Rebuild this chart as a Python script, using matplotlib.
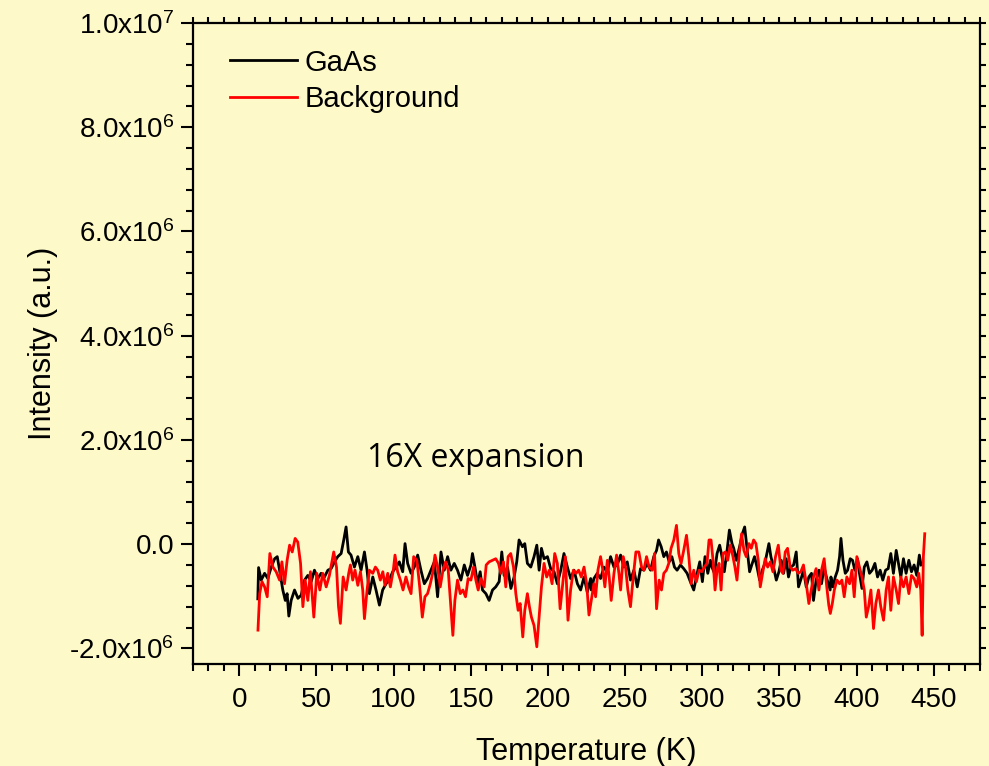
import matplotlib
matplotlib.use("Agg")
import matplotlib.pyplot as plt
from matplotlib.ticker import MultipleLocator, FuncFormatter

plt.rcParams['font.family'] = ['Liberation Sans', 'DejaVu Sans']
plt.rcParams['mathtext.default'] = 'regular'
plt.rcParams['axes.unicode_minus'] = False

# GaAs signal (intensity in units of 1e6 a.u.)
gaas_temp = [12.0, 12.5, 14.2, 16.4, 18.5, 20.7, 22.9, 24.6, 26.1, 28.2, 29.8, 31.0, 32.1, 33.6, 35.8,
             38.0, 40.1, 42.3, 44.4, 46.6, 48.7, 50.9, 53.0, 55.2, 57.4, 59.5, 61.7, 63.8, 66.0, 67.7,
             69.2, 70.7, 72.4, 74.6, 76.8, 78.9, 81.1, 82.8, 84.3, 86.5, 88.6, 90.8, 92.9, 95.1, 97.2,
             99.4, 101.6, 103.7, 105.9, 107.4, 109.1, 111.3, 113.4, 115.6, 117.7, 119.9, 122.0, 124.2,
             126.4, 128.5, 130.7, 132.8, 135.0, 137.1, 139.3, 141.4, 143.6, 145.8, 147.9, 150.1, 151.1,
             152.7, 154.4, 156.1, 157.6, 159.8, 161.9, 164.1, 166.2, 168.4, 170.1, 171.6, 173.8, 176.0,
             178.1, 179.8, 181.3, 183.5, 185.0, 186.7, 188.9, 191.0, 192.8, 194.3, 195.8, 197.5, 199.7,
             201.8, 204.0, 206.1, 208.3, 210.4, 212.6, 214.7, 216.9, 219.1, 221.2, 223.4, 225.5, 227.7,
             228.1, 229.8, 232.0, 234.1, 236.3, 238.5, 240.6, 242.8, 244.9, 247.1, 249.2, 251.4, 253.5,
             255.7, 257.9, 260.0, 262.2, 264.3, 266.5, 268.6, 270.4, 271.7, 273.4, 275.1, 276.8, 278.6,
             280.3, 282.0, 283.7, 285.9, 288.0, 290.2, 292.3, 294.5, 296.7, 298.4, 300.1, 301.8, 303.6,
             305.3, 306.3, 307.9, 309.6, 311.3, 312.8, 314.3, 316.1, 317.6, 319.3, 320.4, 322.1, 324.2,
             326.0, 327.5, 329.0, 330.7, 332.4, 333.9, 335.5, 337.2, 338.9, 340.6, 341.9, 343.2, 344.5,
             346.2, 348.0, 349.7, 351.2, 352.7, 354.4, 355.9, 357.4, 359.2, 360.9, 362.4, 364.1, 365.6,
             367.4, 369.1, 370.8, 372.1, 373.8, 375.6, 377.3, 379.0, 380.7, 382.9, 383.4, 384.7, 386.2,
             387.7, 389.0, 389.9, 391.2, 392.7, 394.2, 395.9, 397.4, 398.9, 400.6, 401.9, 403.5, 405.0,
             406.7, 408.4, 410.1, 411.9, 413.6, 415.3, 417.0, 418.8, 420.5, 422.2, 423.9, 425.7, 427.2,
             428.7, 430.4, 432.1, 433.9, 435.6, 437.3, 439.0, 440.7, 441.8]
gaas_int = [-1.05, -0.45, -0.69, -0.56, -0.66, -0.44, -0.28, -0.24, -0.50, -0.88, -1.08, -0.95, -1.38, -1.08, -0.88,
            -1.04, -0.98, -0.69, -0.60, -0.72, -0.50, -0.66, -0.56, -0.63, -0.50, -0.47, -0.34, -0.24, -0.18, 0.08,
            0.33, -0.15, -0.21, -0.44, -0.24, -0.50, -0.15, -0.50, -0.95, -0.63, -0.88, -1.17, -0.88, -0.76, -0.69,
            -0.53, -0.44, -0.34, -0.53, 0.01, -0.37, -0.56, -0.44, -0.21, -0.50, -0.76, -0.66, -0.50,
            -0.34, -1.01, -0.15, -0.50, -0.24, -0.50, -0.37, -0.50, -0.69, -0.40, -0.60, -0.40, -0.18,
            -0.44, -0.76, -0.53, -0.88, -0.95, -1.08, -0.88, -0.82, -0.72, -0.15, -0.60, -0.44, -0.85,
            -0.63, -0.34, 0.08, -0.05, 0.01, -0.37, -0.44, -0.24, -0.02, -0.50, -0.08, -0.28, -0.24,
            -0.47, -0.53, -0.76, -0.50, -0.18, -0.44, -0.66, -0.50, -0.76, -0.88, -0.63, -0.92, -0.66,
            -0.88, -0.66, -0.56, -0.66, -0.44, -0.53, -0.24, -0.44, -0.40, -0.21, -0.44, -0.34, -0.69,
            -0.50, -0.82, -0.47, -0.50, -0.37, -0.50, -0.24, -0.12, 0.08, -0.05, -0.24, -0.15, -0.34,
            -0.24, -0.44, -0.50, -0.40, -0.47, -0.56, -0.72, -0.88, -0.56, -0.34, -0.72, -0.24, -0.56,
            -0.31, -0.44, -0.56, -0.18, -0.02, -0.24, -0.53, -0.12, 0.27, 0.01, -0.08, -0.31, -0.05,
            0.20, 0.33, -0.08, -0.53, -0.37, -0.24, -0.44, -0.69, -0.50, -0.37, -0.18, 0.01, -0.24,
            -0.44, -0.69, -0.53, -0.31, -0.56, -0.28, -0.63, -0.44, -0.40, -0.15, -0.82, -0.66, -0.50,
            -0.82, -0.63, -0.56, -1.08, -0.69, -0.50, -0.76, -0.44, -0.66, -0.88, -0.63, -0.82, -0.63,
            -0.50, -0.24, 0.11, -0.31, -0.56, -0.50, -0.28, -0.31, -0.50, -0.28, -0.56, -0.85, -0.44,
            -0.34, -0.56, -0.50, -0.37, -0.63, -0.50, -0.69, -0.50, -0.47, -0.18, -0.56, -0.12, -0.37,
            -0.63, -0.28, -0.56, -0.31, -0.53, -0.40, -0.60, -0.21, -0.40]

# Background signal (intensity in units of 1e6 a.u.)
bg_temp = [12.1, 13.2, 14.7, 16.4, 18.1, 19.8, 21.8, 23.9, 26.1, 27.6, 29.3, 31.0, 32.6, 34.3, 36.2,
           37.9, 39.7, 41.2, 42.7, 44.4, 46.1, 48.3, 50.2, 52.2, 54.1, 56.3, 58.4, 61.2, 63.0, 64.3,
           65.5, 67.3, 69.2, 70.9, 72.0, 73.5, 75.0, 76.8, 78.5, 80.0, 81.1, 82.8, 84.3, 86.5, 88.2,
           89.7, 91.4, 93.0, 94.4, 96.2, 97.9, 99.8, 100.9, 102.6, 104.4, 106.1, 108.0, 109.7, 111.3,
           113.0, 115.1, 116.9, 118.6, 120.3, 122.0, 123.8, 125.3, 126.8, 128.5, 130.2, 132.0, 133.7,
           135.4, 137.1, 138.4, 139.7, 141.4, 143.2, 144.9, 146.6, 148.3, 150.1, 151.8, 153.3, 154.8,
           156.5, 158.7, 160.0, 161.9, 164.1, 166.2, 168.0, 169.5, 171.2, 172.7, 174.2, 175.9, 177.7,
           179.2, 180.7, 182.0, 183.7, 185.0, 186.7, 188.0, 189.3, 191.0, 192.8, 194.3, 195.8, 197.5,
           199.2, 200.9, 202.7, 204.4, 206.1, 207.9, 209.6, 211.3, 213.0, 214.7, 216.5, 218.2, 219.9,
           221.6, 223.4, 225.1, 226.6, 228.1, 229.8, 230.9, 232.4, 234.1, 235.6, 236.9, 238.5, 239.7,
           241.0, 242.8, 244.5, 246.0, 247.1, 248.8, 250.3, 251.8, 253.5, 255.3, 257.0, 258.9, 260.7,
           262.2, 263.9, 265.6, 267.6, 269.1, 270.4, 272.1, 273.6, 275.1, 276.8, 278.3, 279.8, 281.6,
           283.3, 284.8, 286.3, 288.0, 289.8, 291.3, 292.8, 294.5, 296.2, 298.0, 299.7, 301.4, 303.1,
           304.4, 305.7, 307.0, 308.3, 309.6, 310.9, 312.2, 313.5, 315.0, 316.5, 318.2, 319.7, 321.2,
           322.5, 324.0, 325.5, 327.0, 328.5, 330.3, 331.8, 333.3, 334.8, 336.3, 337.6, 339.1, 340.8,
           342.4, 344.1, 345.8, 347.5, 349.3, 351.0, 352.3, 353.8, 355.3, 357.0, 358.7, 360.5, 362.2,
           363.9, 365.6, 367.4, 369.1, 370.6, 372.1, 373.8, 375.6, 377.3, 379.0, 380.7, 382.0, 383.0,
           384.3, 385.6, 387.3, 389.0, 390.5, 392.0, 393.7, 395.5, 397.0, 398.5, 400.2, 401.9, 403.5,
           405.0, 406.3, 407.8, 409.3, 411.0, 412.5, 414.2, 415.7, 417.5, 419.2, 420.7, 422.2, 423.9,
           425.7, 427.2, 428.7, 430.4, 432.1, 433.9, 435.6, 437.3, 439.0, 440.3, 441.6, 442.5, 443.3,
           444.2]
bg_int = [-1.65, -0.95, -0.72, -0.82, -1.01, -0.18, -0.44, -0.53, -0.69, -0.34, -0.76, -0.31, -0.02, -0.15, 0.11,
          0.04, -0.37, -1.20, -0.69, -1.08, -0.53, -1.40, -0.56, -0.88, -0.56, -0.82, -0.60, -0.15, -0.44, -1.20,
          -1.52, -0.63, -0.88, -0.56, -0.40, -0.69, -0.50, -0.79, -0.53, -0.88, -1.43, -0.88, -0.50, -0.56, -0.44,
          -0.50, -0.69, -0.53, -0.79, -0.56, -0.82, -0.50, -0.21, -0.53, -0.69, -0.88, -0.63, -0.82, -0.95,
          -0.24, -0.31, -0.82, -1.40, -1.01, -0.95, -0.76, -0.56, -0.21, -0.44, -0.82, -0.50, -0.34,
          -0.50, -1.20, -1.75, -1.08, -0.69, -0.95, -0.88, -1.01, -0.66, -0.69, -0.44, -0.69, -0.88,
          -0.66, -0.82, -0.40, -0.34, -0.31, -0.28, -0.37, -0.56, -0.34, -0.82, -0.24, -0.18, -0.44,
          -0.95, -1.27, -1.14, -1.78, -1.27, -0.95, -1.20, -1.40, -1.56, -1.97, -1.40, -0.82, -0.37,
          -0.63, -0.50, -0.76, -0.18, -0.37, -1.24, -0.76, -0.24, -1.46, -0.88, -0.50, -0.56, -0.50,
          -0.63, -0.44, -0.76, -1.36, -1.08, -0.76, -1.01, -0.50, -0.24, -0.50, -0.82, -0.31, -0.63,
          -1.08, -0.56, -0.21, -0.56, -0.88, -0.24, -0.44, -0.88, -1.20, -0.63, -0.15, -0.15, -0.44,
          -0.50, -0.24, -0.44, -0.50, -0.18, -1.24, -0.69, -0.88, -0.56, -0.50, -0.37, -0.08, 0.08,
          0.36, -0.18, -0.37, -0.12, 0.17, -0.24, -0.76, -0.50, -0.72, -0.50, -0.53, -0.44, -0.37,
          0.08, 0.08, -0.31, -0.88, -0.50, -0.37, -0.88, -0.18, -0.15, -0.31, -0.02, -0.21, -0.44,
          -0.69, -0.18, 0.20, -0.12, -0.24, 0.01, -0.08, 0.08, 0.01, -0.31, -0.82, -0.56, -0.28,
          -0.44, -0.34, -0.53, -0.24, -0.02, -0.50, -0.56, -0.15, -0.08, -0.44, -0.50, -0.47, -0.56,
          -0.53, -0.40, -0.76, -1.14, -0.88, -0.63, -0.47, -0.88, -0.50, -0.28, -0.82, -1.17, -1.33,
          -1.14, -0.88, -0.69, -0.76, -0.69, -1.01, -0.63, -0.76, -0.50, -1.01, -0.24, -0.44, -0.63,
          -0.88, -1.40, -1.20, -0.88, -1.62, -1.14, -0.88, -1.20, -1.46, -0.88, -0.63, -1.27, -0.63,
          -0.88, -1.14, -0.63, -0.82, -0.63, -0.95, -0.60, -0.66, -0.82, -0.56, -0.88, -1.75, -0.24,
          0.20]

series_labels = ['GaAs', 'Background']
scale = 1e6

bg_color = '#FDF9C8'
fig = plt.figure(figsize=(9.89, 7.66), dpi=100, facecolor=bg_color)
ax = fig.add_axes([193 / 989, 1 - 664 / 766, 787 / 989, 641 / 766])
ax.set_facecolor(bg_color)

ax.plot(gaas_temp, [v * scale for v in gaas_int], color='black', lw=2.0, label=series_labels[0])
ax.plot(bg_temp, [v * scale for v in bg_int], color='#FF0000', lw=2.0, label=series_labels[1])

ax.set_xlim(-30, 480)
ax.set_ylim(-2.3e6, 1.0e7)

ax.xaxis.set_major_locator(MultipleLocator(50))
ax.xaxis.set_minor_locator(MultipleLocator(10))
ax.yaxis.set_major_locator(MultipleLocator(2e6))
ax.yaxis.set_minor_locator(MultipleLocator(4e5))


def y_fmt(v, pos):
    if abs(v) < 1:
        return '0.0'
    exp = 7 if abs(v) >= 1e7 - 1 else 6
    mant = abs(v) / 10 ** exp
    sign = '-' if v < 0 else ''
    return sign + r'$%.1fx10^{%d}$' % (mant, exp)


ax.yaxis.set_major_formatter(FuncFormatter(y_fmt))
ax.xaxis.set_major_formatter(FuncFormatter(lambda v, p: '%d' % v))

for s in ax.spines.values():
    s.set_linewidth(1.6)

ax.tick_params(axis='both', which='major', direction='out', length=8.5, width=1.5,
               labelsize=20, pad=5)
ax.tick_params(axis='both', which='minor', direction='out', length=5, width=1.5)
ax.tick_params(axis='x', which='major', pad=8)
ax.tick_params(top=True, right=True, which='both')

# mirrored ticks on the top and right edges are short and straddle the spine
for t in ax.xaxis.get_major_ticks() + ax.xaxis.get_minor_ticks():
    t.tick2line.set_markersize(4)
for t in ax.yaxis.get_major_ticks() + ax.yaxis.get_minor_ticks():
    t.tick2line.set_markersize(4)

ax.set_xlabel('Temperature (K)', fontsize=22, labelpad=17)
ax.set_ylabel('Intensity (a.u.)', fontsize=22, labelpad=8)

ax.text(0.221, 0.307, '16X expansion', transform=ax.transAxes, fontsize=23,
        family=['Open Sans', 'DejaVu Sans'], ha='left', va='baseline')

ax.legend(loc='upper left', bbox_to_anchor=(0.047, 0.96), frameon=False, fontsize=21,
          handlelength=2.3, handletextpad=0.25, borderaxespad=0, borderpad=0,
          labelspacing=0.3)

fig.savefig('out.png', dpi=100, facecolor=bg_color)
